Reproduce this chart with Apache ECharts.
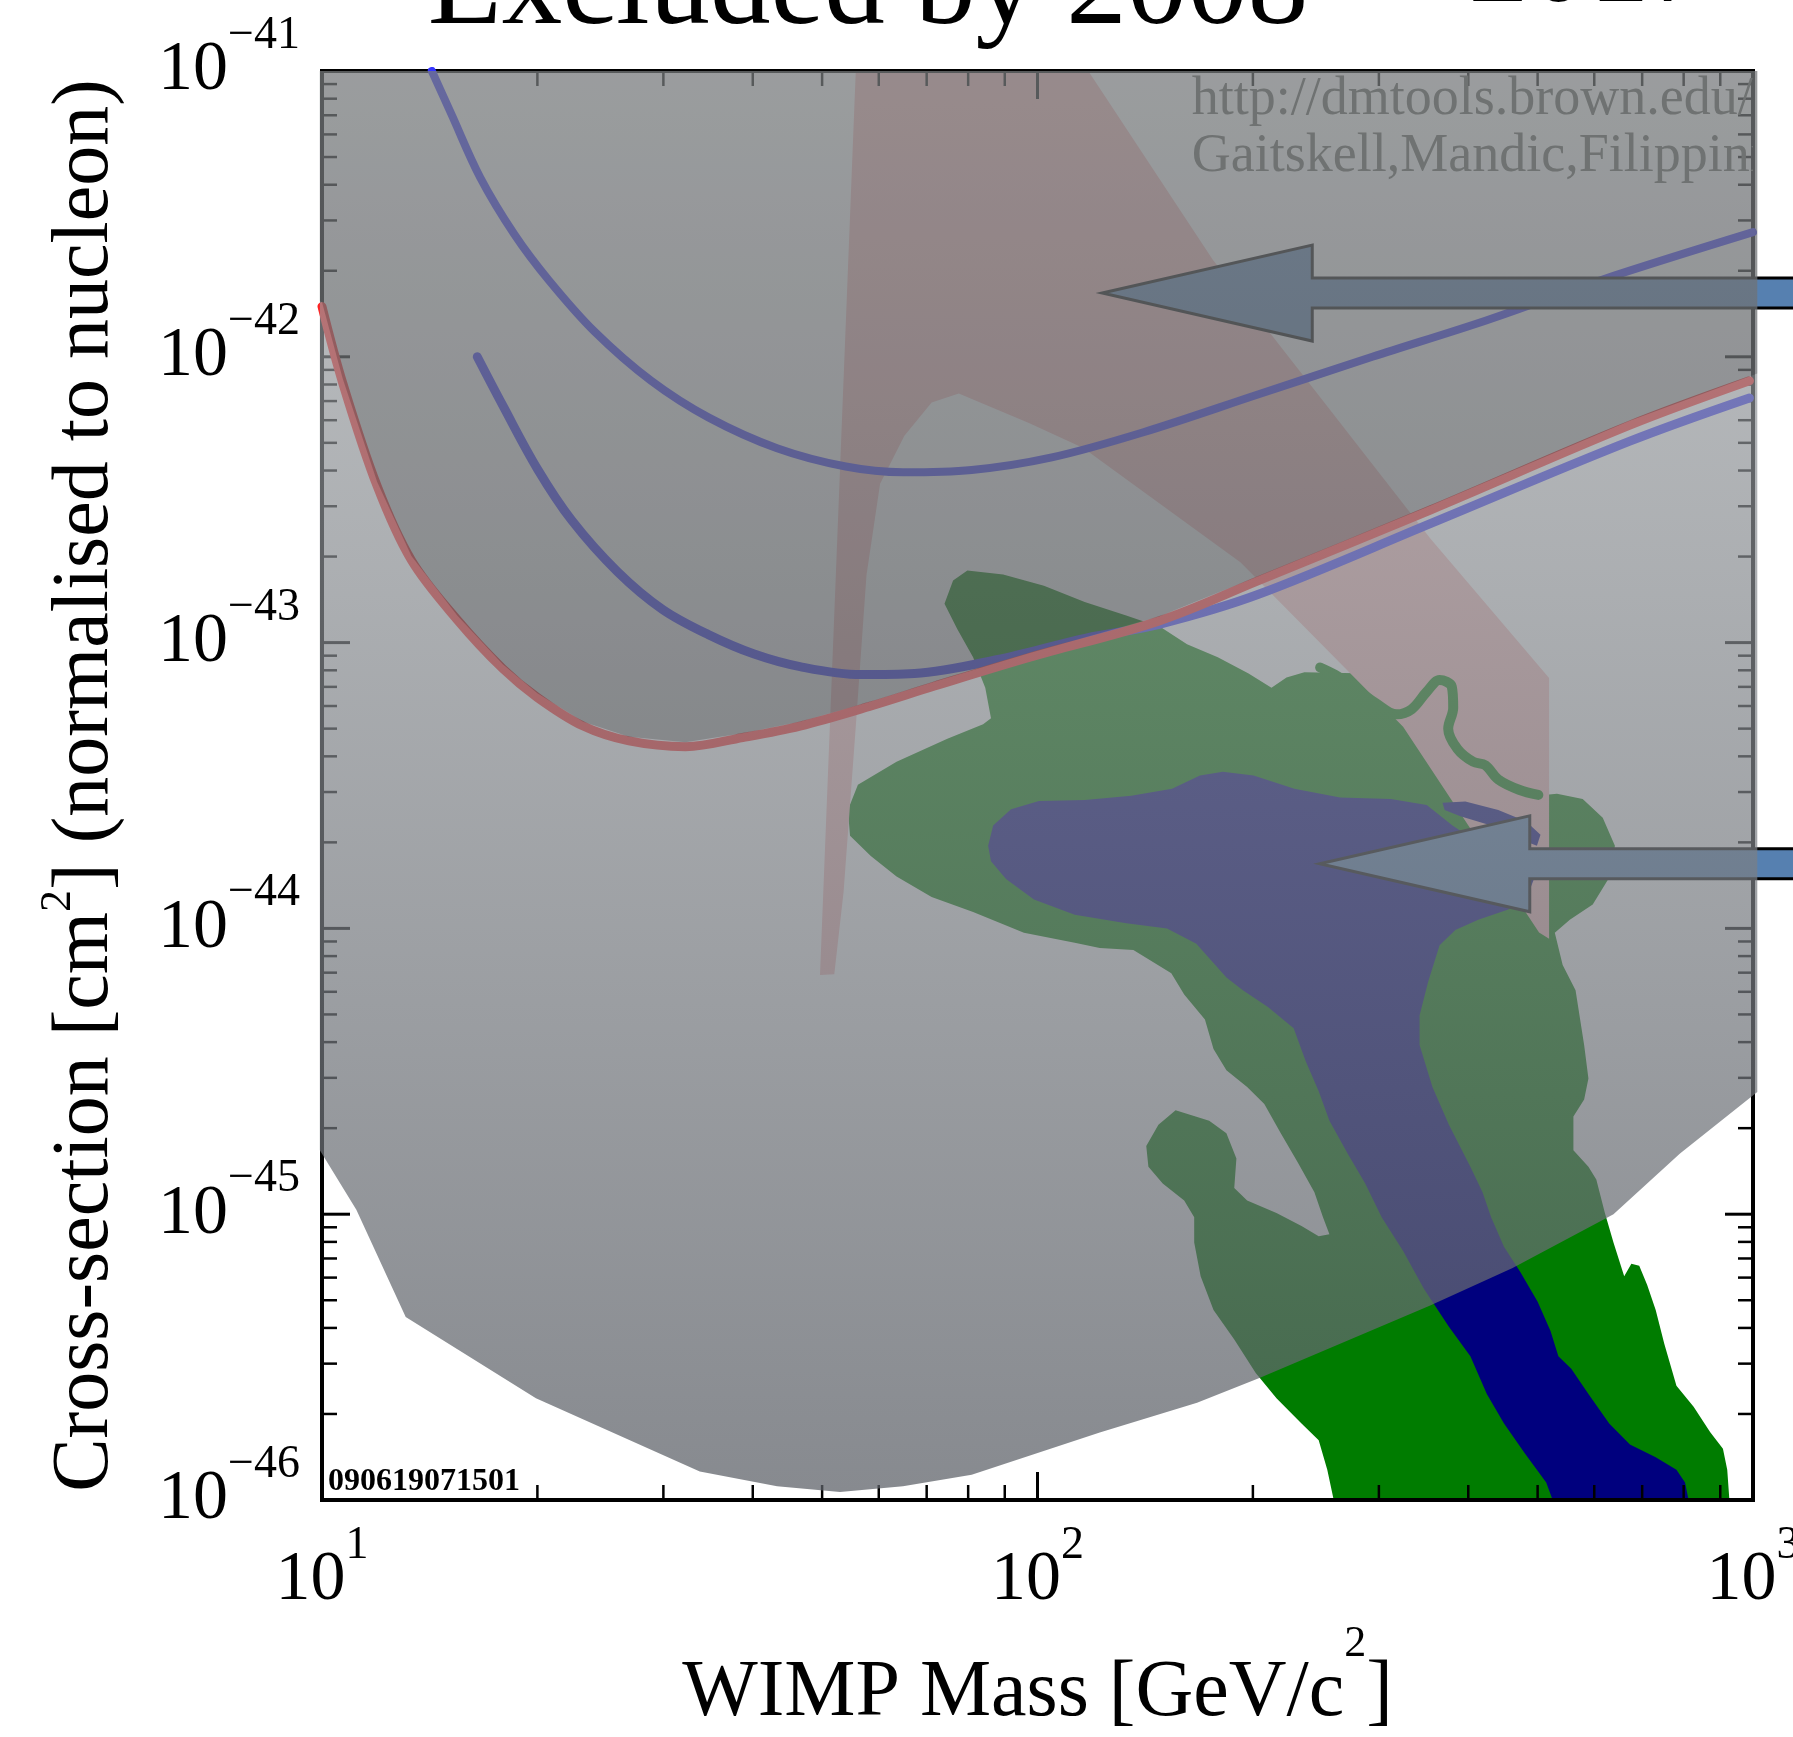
<!DOCTYPE html>
<html>
<head>
<meta charset="utf-8">
<script src="https://cdn.jsdelivr.net/npm/echarts@6/dist/echarts.min.js"></script>
<style>
html,body{margin:0;padding:0;background:#ffffff;}
#chart{width:1793px;height:1737px;}
</style>
</head>
<body>
<div id="chart"></div>
<script>
// All points are [log10(WIMP mass / GeV/c^2), log10(cross-section / cm^2)]
const xTickExponents = [1, 2, 3];
const yTickExponents = [-46, -45, -44, -43, -42, -41];
const minorMultipliers = [2, 3, 4, 5, 6, 7, 8, 9];

const titleText = 'Excluded by 2008';
const titleText2 = '2017';
const xAxisTitle = '{n|WIMP Mass [GeV/c}{s|2}{n|]}';
const yAxisTitle = '{n|Cross-section [cm}{s|2}{n|] (normalised to nucleon)}';
const watermarkLines = ['http://dmtools.brown.edu/', 'Gaitskell,Mandic,Filippini'];
const watermarkAnchors = [[2.2156, -41.101], [2.2156, -41.301]];
const plotIdText = '090619071501';

// lowest limit curve (red)
const redLimit = [
  [1.000,-41.824],[1.029,-42.092],[1.077,-42.452],[1.125,-42.712],[1.189,-42.920],
  [1.253,-43.092],[1.301,-43.192],[1.365,-43.292],[1.429,-43.344],[1.508,-43.364],
  [1.588,-43.332],[1.668,-43.292],[1.764,-43.224],[1.856,-43.152],[1.988,-43.052],
  [2.170,-42.924],[2.308,-42.784],[2.549,-42.536],[2.827,-42.240],[2.995,-42.084]
];
// second limit curve (blue)
const blueLimit = [
  [1.217,-42.000],[1.253,-42.172],[1.301,-42.392],[1.349,-42.572],[1.413,-42.752],
  [1.476,-42.884],[1.540,-42.972],[1.604,-43.040],[1.668,-43.084],[1.753,-43.112],
  [1.828,-43.108],[1.943,-43.060],[2.068,-42.984],[2.170,-42.936],[2.308,-42.832],
  [2.549,-42.584],[2.827,-42.296],[2.995,-42.144]
];
// upper limit curve (blue)
const blueUpperLimit = [
  [1.1535,-41.000],[1.181,-41.152],[1.221,-41.372],[1.269,-41.572],[1.317,-41.732],
  [1.381,-41.912],[1.460,-42.084],[1.540,-42.212],[1.636,-42.320],[1.732,-42.384],
  [1.812,-42.404],[1.908,-42.396],[2.020,-42.352],[2.148,-42.264],[2.308,-42.132],
  [2.468,-42.000],[2.628,-41.872],[2.787,-41.732],[3.000,-41.564]
];
// pink theory band
const pinkBand = [
  [1.746,-41.000],[2.071,-41.000],[2.245,-41.660],[2.397,-42.148],[2.549,-42.636],
  [2.715,-43.124],[2.715,-44.036],[2.701,-44.014],[2.511,-43.294],[2.284,-42.720],
  [2.064,-42.319],[1.988,-42.232],[1.890,-42.128],[1.852,-42.160],[1.814,-42.276],
  [1.780,-42.444],[1.761,-42.764],[1.746,-43.294],[1.729,-43.872],[1.716,-44.160],
  [1.696,-44.163]
];
// outer (green) SUSY region
const susyOuter = [
  [1.870,-42.864],[1.882,-42.783],[1.902,-42.748],[1.952,-42.762],[2.009,-42.801],
  [2.066,-42.858],[2.124,-42.905],[2.173,-42.947],[2.209,-43.006],[2.252,-43.051],
  [2.295,-43.108],[2.327,-43.158],[2.348,-43.122],[2.373,-43.104],[2.466,-43.108],
  [2.587,-43.390],[2.659,-43.497],[2.708,-43.533],[2.726,-43.529],[2.762,-43.547],
  [2.790,-43.613],[2.807,-43.711],[2.800,-43.818],[2.776,-43.916],[2.744,-43.970],
  [2.723,-44.015],[2.734,-44.128],[2.752,-44.216],[2.764,-44.408],[2.770,-44.525],
  [2.764,-44.599],[2.749,-44.658],[2.749,-44.776],[2.770,-44.834],[2.781,-44.879],
  [2.793,-44.996],[2.805,-45.099],[2.820,-45.217],[2.830,-45.173],[2.841,-45.180],
  [2.852,-45.247],[2.864,-45.335],[2.876,-45.453],[2.893,-45.600],[2.917,-45.674],
  [2.940,-45.762],[2.958,-45.821],[2.964,-45.894],[2.967,-46.000],[2.414,-46.000],
  [2.405,-45.894],[2.393,-45.791],[2.369,-45.732],[2.334,-45.644],[2.305,-45.556],
  [2.275,-45.438],[2.246,-45.335],[2.228,-45.217],[2.219,-45.099],[2.219,-45.011],
  [2.205,-44.952],[2.175,-44.893],[2.155,-44.834],[2.152,-44.761],[2.169,-44.687],
  [2.193,-44.636],[2.240,-44.673],[2.264,-44.717],[2.278,-44.805],[2.275,-44.908],
  [2.293,-44.952],[2.334,-44.996],[2.369,-45.041],[2.393,-45.077],[2.408,-45.070],
  [2.399,-45.011],[2.387,-44.923],[2.364,-44.820],[2.340,-44.717],[2.317,-44.614],
  [2.293,-44.555],[2.264,-44.496],[2.246,-44.422],[2.234,-44.319],[2.205,-44.231],
  [2.187,-44.157],[2.134,-44.076],[2.087,-44.069],[2.052,-44.050],[1.981,-44.015],
  [1.910,-43.943],[1.852,-43.890],[1.803,-43.818],[1.767,-43.747],[1.738,-43.676],
  [1.735,-43.586],[1.749,-43.497],[1.803,-43.417],[1.874,-43.336],[1.924,-43.286],
  [1.935,-43.265],[1.927,-43.158],[1.910,-43.051],[1.888,-42.953]
];
// inner (blue) SUSY region
const susyInner = [
  [1.931,-43.711],[1.938,-43.640],[1.963,-43.583],[2.002,-43.554],[2.066,-43.551],
  [2.131,-43.536],[2.188,-43.511],[2.227,-43.465],[2.259,-43.452],[2.302,-43.465],
  [2.359,-43.511],[2.423,-43.542],[2.494,-43.547],[2.544,-43.568],[2.580,-43.640],
  [2.623,-43.711],[2.680,-43.747],[2.698,-43.800],[2.687,-43.872],[2.658,-43.934],
  [2.616,-43.970],[2.584,-44.006],[2.562,-44.059],[2.546,-44.187],[2.534,-44.305],
  [2.534,-44.408],[2.552,-44.555],[2.575,-44.687],[2.605,-44.834],[2.622,-44.923],
  [2.634,-45.011],[2.652,-45.114],[2.675,-45.203],[2.699,-45.306],[2.717,-45.409],
  [2.728,-45.497],[2.746,-45.541],[2.770,-45.629],[2.799,-45.732],[2.828,-45.806],
  [2.864,-45.850],[2.893,-45.894],[2.905,-45.939],[2.910,-46.000],[2.720,-46.000],
  [2.711,-45.939],[2.681,-45.836],[2.652,-45.732],[2.628,-45.629],[2.605,-45.497],
  [2.575,-45.394],[2.540,-45.261],[2.511,-45.129],[2.481,-45.011],[2.458,-44.893],
  [2.434,-44.790],[2.408,-44.673],[2.393,-44.570],[2.375,-44.466],[2.358,-44.349],
  [2.322,-44.275],[2.287,-44.216],[2.264,-44.172],[2.222,-44.054],[2.181,-44.000],
  [2.124,-43.982],[2.052,-43.952],[1.995,-43.899],[1.956,-43.827],[1.935,-43.765]
];
const susyInnerSliver = [
  [2.566,-43.560],[2.598,-43.556],[2.644,-43.586],[2.683,-43.626],[2.703,-43.672],
  [2.698,-43.711],[2.676,-43.690],[2.634,-43.640],[2.591,-43.608],[2.569,-43.586]
];
const susyContour = [
  [2.395,-43.087],[2.416,-43.113],[2.445,-43.162],[2.473,-43.212],[2.502,-43.251],
  [2.523,-43.233],[2.544,-43.172],[2.562,-43.131],[2.579,-43.154],[2.581,-43.229],
  [2.574,-43.301],[2.587,-43.372],[2.609,-43.417],[2.626,-43.429],[2.644,-43.479],
  [2.673,-43.515],[2.700,-43.533]
];
// grey shaded region (projected reach)
const shadedReach = [
  [0.997,-41.000],[3.006,-41.000],[3.006,-44.572],[2.898,-44.788],[2.805,-45.000],
  [2.664,-45.188],[2.548,-45.320],[2.311,-45.572],[2.223,-45.660],[2.087,-45.764],
  [1.908,-45.912],[1.812,-45.952],[1.724,-45.972],[1.636,-45.952],[1.528,-45.900],
  [1.299,-45.644],[1.117,-45.360],[1.048,-44.984],[0.997,-44.776]
];
// darker region above the 2008 limit: bounded by the red curve
const excluded2008Corners = [[0.997,-41.000],[3.006,-41.000],[3.006,-42.058],[0.997,-41.805]];
const arrowTips = [[2.0905,-41.777],[2.3945,-43.774]];

const SERIF = "'Liberation Serif','Times New Roman',serif";
const chart = echarts.init(document.getElementById('chart'), null, {renderer:'canvas', width:1793, height:1737});

function polygonSeries(name, pts, fill, z, clip) {
  return {
    type:'custom', name, z, silent:true, animation:false, clip:!!clip,
    data:[[2,-43]],
    renderItem:(params, api) => ({
      type:'polygon',
      shape:{points: pts.map(p => api.coord(p))},
      style:{fill: (typeof fill === 'function') ? fill() : fill}
    })
  };
}
function curveSeries(name, data, color, width, z) {
  return {
    type:'line', name, data, z, smooth:0.35, symbol:'none', showSymbol:false,
    silent:true, animation:false, clip:true,
    lineStyle:{color, width, cap:'round', join:'round'}
  };
}

const excluded2008 = [excluded2008Corners[0], excluded2008Corners[1], excluded2008Corners[2]]
  .concat(redLimit.slice().reverse().map(p => [p[0], p[1] + 0.015]))
  .concat([excluded2008Corners[3]]);

const frameSeries = {
  type:'custom', name:'frame', z:5, silent:true, animation:false, clip:false,
  data:[[2,-43]],
  renderItem:(params, api) => {
    const bl = api.coord([xTickExponents[0], yTickExponents[0]]);
    const tr = api.coord([xTickExponents[xTickExponents.length-1], yTickExponents[yTickExponents.length-1]]);
    const children = [];
    const seg = (x1,y1,x2,y2,w) => children.push({type:'line', shape:{x1,y1,x2,y2}, style:{stroke:'#000', lineWidth:w}});
    const xs = [], ys = [];
    xTickExponents.forEach((e,i) => { xs.push([e,true]); if (i < xTickExponents.length-1) minorMultipliers.forEach(k => xs.push([e+Math.log10(k), false])); });
    yTickExponents.forEach((e,i) => { ys.push([e,true]); if (i < yTickExponents.length-1) minorMultipliers.forEach(k => ys.push([e+Math.log10(k), false])); });
    xs.forEach(([v,major]) => {
      const x = api.coord([v, yTickExponents[0]])[0];
      const L = major ? 28 : 15, w = major ? 3 : 2.5;
      seg(x, bl[1], x, bl[1]-L, w); seg(x, tr[1], x, tr[1]+L, w);
    });
    ys.forEach(([v,major]) => {
      const y = api.coord([xTickExponents[0], v])[1];
      const L = major ? 28 : 15, w = major ? 3 : 2.5;
      seg(bl[0], y, bl[0]+L, y, w); seg(tr[0], y, tr[0]-L, y, w);
    });
    children.push({type:'rect', shape:{x:bl[0], y:tr[1], width:tr[0]-bl[0], height:bl[1]-tr[1]},
      style:{fill:null, stroke:'#000', lineWidth:4}});
    return {type:'group', children};
  }
};

const arrowSeries = {
  type:'custom', name:'arrows', z:6, silent:true, animation:false, clip:false,
  data:[[2,-43]],
  renderItem:(params, api) => {
    const W = api.getWidth() + 10;
    const children = arrowTips.map(t => {
      const [x, y] = api.coord(t);
      const H = 210, hh = 48, sh = 15;
      return {type:'polygon',
        shape:{points:[[x,y],[x+H,y-hh],[x+H,y-sh],[W,y-sh],[W,y+sh],[x+H,y+sh],[x+H,y+hh]]},
        style:{fill:'#5680b0', stroke:'#000', lineWidth:3, lineJoin:'miter'}};
    });
    return {type:'group', children};
  }
};

const watermarkSeries = {
  type:'custom', name:'watermark', z:9, silent:true, animation:false, clip:true,
  data:[[2,-43]],
  renderItem:(params, api) => ({
    type:'group',
    children: watermarkLines.map((t,i) => {
      const [x,y] = api.coord(watermarkAnchors[i]);
      return {type:'text', x, y, style:{text:t, fontSize:54, fontFamily:SERIF, fill:'#6f7272',
        align:'left', verticalAlign:'middle', textAlign:'left', textVerticalAlign:'middle'}};
    })
  })
};

const option = {
  animation:false,
  backgroundColor:'#ffffff',
  textStyle:{fontFamily:SERIF},
  grid:{left:322, right:40, top:71, bottom:237, containLabel:false, outerBoundsMode:'none'},
  xAxis:{
    type:'value', min:1, max:3, interval:1,
    axisLine:{show:false}, axisTick:{show:false}, splitLine:{show:false},
    axisLabel:{
      showMinLabel:true, showMaxLabel:true, margin:23, hideOverlap:false,
      formatter: v => '{b|10}{s|' + v + '}',
      rich:{
        b:{fontSize:70, lineHeight:116, fontFamily:SERIF, color:'#000'},
        s:{fontSize:46, lineHeight:46, verticalAlign:'top', fontFamily:SERIF, color:'#000'}
      }
    },
    name:xAxisTitle, nameLocation:'middle', nameGap:122,
    nameTextStyle:{rich:{
      n:{fontSize:80, lineHeight:144, fontFamily:SERIF, color:'#000'},
      s:{fontSize:44, lineHeight:44, verticalAlign:'top', fontFamily:SERIF, color:'#000'}
    }}
  },
  yAxis:{
    type:'value', min:-46, max:-41, interval:1,
    axisLine:{show:false}, axisTick:{show:false}, splitLine:{show:false},
    axisLabel:{
      showMinLabel:true, showMaxLabel:true, margin:22, hideOverlap:false,
      formatter: v => '{b|10}{s|\u2212' + Math.abs(v) + '}',
      rich:{
        b:{fontSize:70, lineHeight:116, fontFamily:SERIF, color:'#000'},
        s:{fontSize:46, lineHeight:46, verticalAlign:'top', fontFamily:SERIF, color:'#000'}
      }
    },
    name:yAxisTitle, nameLocation:'middle', nameRotate:90, nameGap:186,
    nameTextStyle:{rich:{
      n:{fontSize:80, lineHeight:100, fontFamily:SERIF, color:'#000'},
      s:{fontSize:44, lineHeight:44, verticalAlign:'top', fontFamily:SERIF, color:'#000'}
    }}
  },
  graphic:[
    {type:'text', x:868, y:-9, silent:true, style:{text:titleText, fontSize:121, fontFamily:SERIF, fill:'#000',
      align:'center', verticalAlign:'middle', textAlign:'center', textVerticalAlign:'middle'}},
    {type:'text', x:1468, y:-31, silent:true, style:{text:titleText2, fontSize:121, fontFamily:SERIF, fill:'#000',
      align:'left', verticalAlign:'middle', textAlign:'left', textVerticalAlign:'middle'}},
    {type:'text', x:328, y:1482, silent:true, style:{text:plotIdText, fontSize:32, fontWeight:'bold', fontFamily:SERIF, fill:'#000',
      align:'left', verticalAlign:'middle', textAlign:'left', textVerticalAlign:'middle'}}
  ],
  series:[
    polygonSeries('SUSY outer', susyOuter, '#007c00', 2, true),
    polygonSeries('theory band', pinkBand, '#f4baba', 3, true),
    polygonSeries('SUSY inner', susyInner, '#00007e', 4, true),
    polygonSeries('SUSY inner sliver', susyInnerSliver, '#00007e', 4, true),
    curveSeries('SUSY contour', susyContour, '#007c00', 10, 4),
    curveSeries('limit upper', blueUpperLimit, '#3535ff', 8, 5),
    curveSeries('limit blue', blueLimit, '#3030ff', 9, 5),
    curveSeries('limit red', redLimit, '#ff2020', 9, 5),
    frameSeries,
    arrowSeries,
    polygonSeries('projected reach', shadedReach, () => new echarts.graphic.LinearGradient(0,0,0,1,[
      {offset:0, color:'rgba(160,164,167,0.68)'},
      {offset:1, color:'rgba(93,97,104,0.74)'}
    ]), 7, false),
    polygonSeries('excluded by 2008', excluded2008, 'rgba(0,0,0,0.19)', 8, false),
    watermarkSeries
  ]
};
chart.setOption(option);
</script>
</body>
</html>
